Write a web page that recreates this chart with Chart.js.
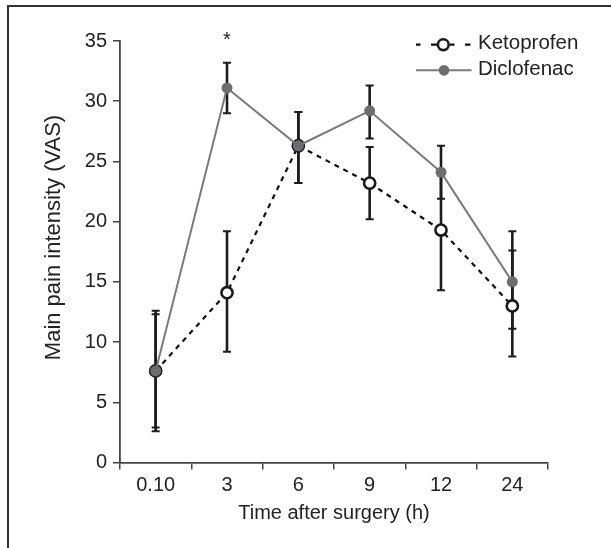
<!DOCTYPE html>
<html>
<head>
<meta charset="utf-8">
<script src="https://cdn.jsdelivr.net/npm/chart.js@4/dist/chart.umd.min.js"></script>
<style>
  html, body { margin: 0; padding: 0; background: #fff; overflow: hidden; }
  #wrap { position: relative; width: 611px; height: 548px; }
  #frame { position: absolute; left: 7px; top: 5px; width: 700px; height: 700px;
           border-left: 2px solid #333; border-top: 2px solid #333; pointer-events: none; }
  canvas { position: absolute; left: 0; top: 0; }
</style>
</head>
<body>
<div id="wrap">
  <canvas id="c" width="611" height="548"></canvas>
  <div id="frame"></div>
</div>
<script>
// ---- data ----
const categories = ['0.10', '3', '6', '9', '12', '24'];

const ketoprofen      = [7.6, 14.1, 26.3, 23.2, 19.3, 13.0];
const ketoprofenUpper = [12.3, 19.2, 29.1, 26.2, 24.3, 17.6];
const ketoprofenLower = [2.9, 9.2, 23.2, 20.2, 14.3, 8.8];

const diclofenac      = [7.6, 31.1, 26.3, 29.2, 24.1, 15.0];
const diclofenacUpper = [12.6, 33.2, 29.1, 31.3, 26.3, 19.2];
const diclofenacLower = [2.6, 29.0, 23.2, 26.9, 21.9, 11.1];

const yTicksMin = 0, yTicksMax = 35, yTickStep = 5;
const significance = [{ index: 1, value: 34.6, text: '*' }];

const xTitle = 'Time after surgery (h)';
const yTitle = 'Main pain intensity (VAS)';
const seriesNames = ['Ketoprofen', 'Diclofenac'];

// ---- styles ----
const FONT = "'Liberation Sans', Arial, Helvetica, sans-serif";
const TEXT = '#222';
const AXIS = '#444';
const DIC_LINE = '#7a7a7a';
const DIC_POINT = '#6d6d71';
const ERR = '#1c1c1c';

Chart.defaults.font.family = FONT;
Chart.defaults.color = TEXT;

const errorBars = {
  id: 'errorBars',
  beforeDatasetsDraw(chart) {
    const { ctx, scales: { x, y } } = chart;
    const sets = [[ketoprofenUpper, ketoprofenLower], [diclofenacUpper, diclofenacLower]];
    ctx.save();
    ctx.strokeStyle = ERR;
    sets.forEach(([up, lo]) => {
      for (let i = 0; i < up.length; i++) {
        const px = x.getPixelForValue(i);
        const yu = y.getPixelForValue(up[i]);
        const yl = y.getPixelForValue(lo[i]);
        ctx.lineWidth = 2.6;
        ctx.beginPath(); ctx.moveTo(px, yu); ctx.lineTo(px, yl); ctx.stroke();
        ctx.lineWidth = 2;
        ctx.beginPath();
        ctx.moveTo(px - 4, yu); ctx.lineTo(px + 4, yu);
        ctx.moveTo(px - 4, yl); ctx.lineTo(px + 4, yl);
        ctx.stroke();
      }
    });
    ctx.restore();
  }
};

const extras = {
  id: 'extras',
  afterDraw(chart) {
    const { ctx, scales: { x, y } } = chart;
    ctx.save();
    // significance marks
    ctx.fillStyle = TEXT;
    ctx.font = '20px ' + FONT;
    ctx.textAlign = 'center';
    ctx.textBaseline = 'alphabetic';
    significance.forEach(s => ctx.fillText(s.text, x.getPixelForValue(s.index), y.getPixelForValue(s.value)));

    // y axis title
    ctx.save();
    ctx.translate(54, 237.5);
    ctx.rotate(-Math.PI / 2);
    ctx.font = '22px ' + FONT;
    ctx.textAlign = 'center';
    ctx.textBaseline = 'middle';
    ctx.fillText(yTitle, 0, 0);
    ctx.restore();

    // legend
    const ly1 = 44.7, ly2 = 70.3;
    ctx.lineWidth = 2.2;
    ctx.strokeStyle = '#111';
    ctx.beginPath();
    [[416, 420.5], [431, 437], [450, 454.5], [465, 470.5]].forEach(([a, b]) => { ctx.moveTo(a, ly1); ctx.lineTo(b, ly1); });
    ctx.stroke();
    ctx.beginPath();
    ctx.arc(443.3, ly1, 5.4, 0, Math.PI * 2);
    ctx.fillStyle = '#fff'; ctx.fill();
    ctx.lineWidth = 2.6; ctx.strokeStyle = '#1a1a1a'; ctx.stroke();

    ctx.lineWidth = 2;
    ctx.strokeStyle = DIC_LINE;
    ctx.beginPath(); ctx.moveTo(416, ly2); ctx.lineTo(471.5, ly2); ctx.stroke();
    ctx.beginPath(); ctx.arc(444, ly2, 5.4, 0, Math.PI * 2);
    ctx.fillStyle = DIC_POINT; ctx.fill();

    ctx.fillStyle = TEXT;
    ctx.font = '20.5px ' + FONT;
    ctx.textAlign = 'left';
    ctx.textBaseline = 'middle';
    ctx.fillText(seriesNames[0], 478, ly1 - 1.5);
    ctx.fillText(seriesNames[1], 478, ly2 - 0.5);
    ctx.restore();
  }
};

new Chart(document.getElementById('c'), {
  type: 'line',
  data: {
    labels: categories,
    datasets: [
      {
        label: seriesNames[1],
        data: diclofenac,
        borderColor: DIC_LINE,
        borderWidth: 2,
        pointRadius: 5.5,
        pointBackgroundColor: DIC_POINT,
        pointBorderColor: DIC_POINT,
        pointBorderWidth: 0,
        tension: 0,
        fill: false
      },
      {
        label: seriesNames[0],
        data: ketoprofen,
        borderColor: '#111',
        borderWidth: 2.2,
        borderDash: [5, 5],
        pointRadius: 5.6,
        pointBorderWidth: 2.6,
        pointBackgroundColor: '#fff',
        pointBorderColor: '#1a1a1a',
        tension: 0,
        fill: false
      }
    ]
  },
  options: {
    responsive: false,
    animation: false,
    devicePixelRatio: 1,
    layout: { padding: { left: 0, top: 41, right: 63, bottom: 0 } },
    plugins: { legend: { display: false }, tooltip: { enabled: false } },
    scales: {
      x: {
        offset: true,
        grid: { offset: true, drawOnChartArea: false, drawTicks: true, tickLength: 7, color: AXIS, lineWidth: 1.5 },
        border: { color: AXIS, width: 1.8 },
        ticks: { color: TEXT, font: { size: 20 }, padding: 4, maxRotation: 0, autoSkip: false },
        title: { display: true, text: xTitle, color: TEXT, font: { size: 20 }, padding: { top: 0, bottom: 23 } },
        afterFit(s) { s.height = 85.5; }
      },
      y: {
        min: yTicksMin, max: yTicksMax,
        ticks: { stepSize: yTickStep, color: TEXT, font: { size: 20 }, padding: 6 },
        grid: { drawOnChartArea: false, drawTicks: true, tickLength: 7, color: AXIS, lineWidth: 1.5 },
        border: { color: AXIS, width: 1.8 },
        afterFit(s) { s.width = 120; }
      }
    }
  },
  plugins: [errorBars, extras]
});
</script>
</body>
</html>
